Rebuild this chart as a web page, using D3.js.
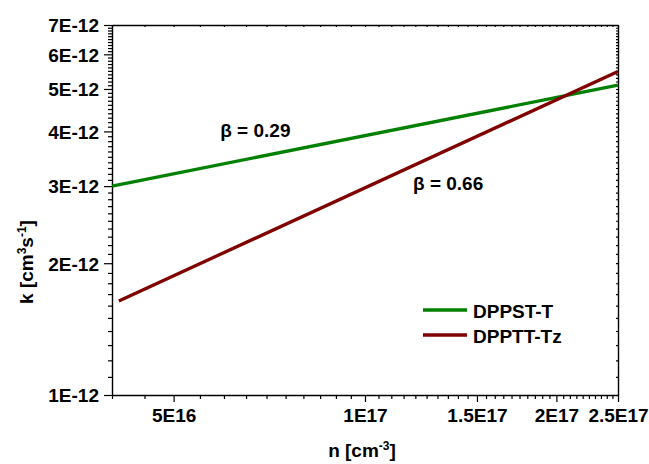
<!DOCTYPE html>
<html>
<head>
<meta charset="utf-8">
<script src="https://cdn.jsdelivr.net/npm/d3@7"></script>
<style>
  body { margin: 0; background: #fff; }
  svg text { font-family: "Liberation Sans", Arial, sans-serif; font-weight: bold; fill: #000; }
  .domain { stroke: #000; stroke-width: 1.4; }
  .tick line { stroke: #000; stroke-width: 1.2; }
</style>
</head>
<body>
<svg></svg>
<script>
let WIDTH = 649;
let HEIGHT = 464;
const FONT = 19;

// tick values and labels
const xMajor = [5e16, 1e17, 1.5e17, 2e17, 2.5e17];
const xMajorLabels = ['5E16', '1E17', '1.5E17', '2E17', '2.5E17'];
const yMajor = [1e-12, 2e-12, 3e-12, 4e-12, 5e-12, 6e-12, 7e-12];
const yMajorLabels = ['1E-12', '2E-12', '3E-12', '4E-12', '5E-12', '6E-12', '7E-12'];

// series
const seriesNames = ['DPPST-T', 'DPPTT-Tz'];
const seriesColors = ['#008000', '#800000'];
const nDPPST = [4.0e16, 2.5e17];
const kDPPST = [3.0e-12, 5.1e-12];
const nDPPTT = [4.1e16, 2.5e17];
const kDPPTT = [1.64e-12, 5.48e-12];
const betaLabels = ['\u03B2 = 0.29', '\u03B2 = 0.66'];
const betaN = [5.92e16, 1.19e17];
const betaK = [3.88e-12, 2.94e-12];

let svg = d3.select('svg')
    .attr('width', WIDTH)
    .attr('height', HEIGHT);

let x = d3.scaleLog().domain([4e16, 2.5e17]).range([112, 618]);
let y = d3.scaleLog().domain([1e-12, 7e-12]).range([395, 25]);

// minor ticks every 5E15 and 0.1E-12
const xMinor = d3.range(8, 51).map(i => i * 5e15).filter(v => !xMajor.includes(v));
const yMinor = d3.range(10, 71).map(i => i * 1e-13).filter(v => !yMajor.some(m => Math.abs(m - v) < 1e-15));

// bottom axis
svg.append('g')
    .attr('transform', 'translate(0,395)')
    .call(d3.axisBottom(x).tickValues(xMinor).tickSize(4).tickFormat(''))
    .call(g => g.select('.domain').remove());
svg.append('g')
    .attr('transform', 'translate(0,395)')
    .call(d3.axisBottom(x).tickValues(xMajor).tickSizeInner(7).tickSizeOuter(0)
        .tickFormat((d, i) => xMajorLabels[i]))
    .call(g => g.selectAll('.tick text').attr('font-size', FONT).attr('dy', '0.88em'));

// left axis
svg.append('g')
    .attr('transform', 'translate(112,0)')
    .call(d3.axisLeft(y).tickValues(yMinor).tickSize(4).tickFormat(''))
    .call(g => g.select('.domain').remove());
svg.append('g')
    .attr('transform', 'translate(112,0)')
    .call(d3.axisLeft(y).tickValues(yMajor).tickSizeInner(8).tickSizeOuter(0)
        .tickFormat((d, i) => yMajorLabels[i]))
    .call(g => g.selectAll('.tick text').attr('font-size', FONT).attr('x', -13).attr('dy', '0.36em'));

// top and right frame with small inner ticks
svg.append('g')
    .attr('transform', 'translate(0,25)')
    .call(d3.axisTop(x).tickValues(xMinor.concat(xMajor)).tickSize(-2).tickSizeOuter(0).tickFormat(''));
svg.append('g')
    .attr('transform', 'translate(618,0)')
    .call(d3.axisRight(y).tickValues(yMinor.concat(yMajor)).tickSize(-2).tickSizeOuter(0).tickFormat(''));

// lines
let line = d3.line()
    .x(d => x(d[0]))
    .y(d => y(d[1]));

const series = [
    d3.zip(nDPPST, kDPPST),
    d3.zip(nDPPTT, kDPPTT)
];

svg.append('g')
    .classed('lines', true)
    .selectAll('path')
    .data(series)
    .enter()
    .append('path')
        .attr('d', line)
        .attr('fill', 'none')
        .attr('stroke', (d, i) => seriesColors[i])
        .attr('stroke-width', 3.3);

// beta annotations
svg.append('g')
    .selectAll('text')
    .data(betaLabels)
    .enter()
    .append('text')
        .attr('x', (d, i) => x(betaN[i]))
        .attr('y', (d, i) => y(betaK[i]))
        .attr('font-size', FONT)
        .text(d => d);

// legend
let legend = svg.append('g').classed('legend', true);
seriesNames.forEach((name, i) => {
    const ly = 310 + i * 25;
    legend.append('line')
        .attr('x1', 423).attr('x2', 467)
        .attr('y1', ly).attr('y2', ly)
        .attr('stroke', seriesColors[i])
        .attr('stroke-width', 3.3);
    legend.append('text')
        .attr('x', 473).attr('y', ly + 8)
        .attr('font-size', FONT)
        .text(name);
});

// axis titles
let xt = svg.append('text')
    .attr('x', 362).attr('y', 457)
    .attr('text-anchor', 'middle')
    .attr('font-size', FONT);
xt.append('tspan').text('n [cm');
xt.append('tspan').attr('font-size', 12).attr('dy', -7).text('-3');
xt.append('tspan').attr('dy', 7).text(']');

let yt = svg.append('text')
    .attr('transform', 'translate(33,262) rotate(-90)')
    .attr('text-anchor', 'middle')
    .attr('font-size', FONT);
yt.append('tspan').text('k [cm');
yt.append('tspan').attr('font-size', 12).attr('dy', -7).text('3');
yt.append('tspan').attr('dy', 7).text('s');
yt.append('tspan').attr('font-size', 12).attr('dy', -7).text('-1');
yt.append('tspan').attr('dy', 7).text(']');
</script>
</body>
</html>
